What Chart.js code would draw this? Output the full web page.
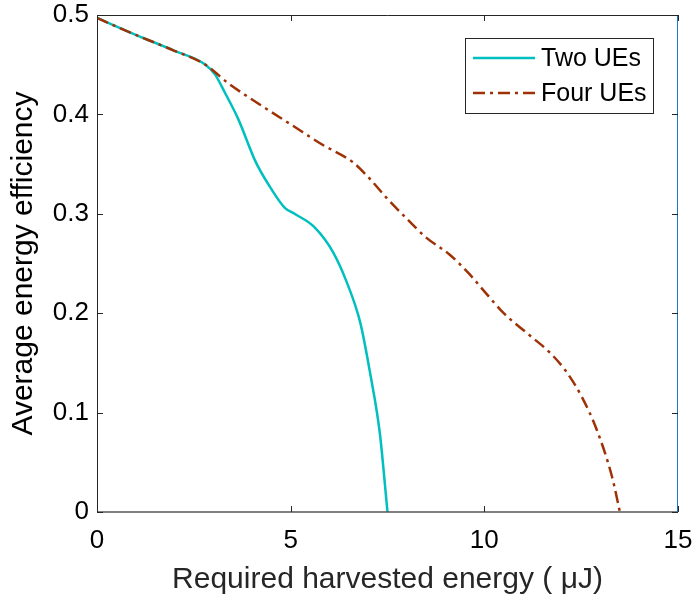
<!DOCTYPE html>
<html>
<head>
<meta charset="utf-8">
<script src="https://cdn.jsdelivr.net/npm/chart.js@4"></script>
<style>
  html, body { margin: 0; padding: 0; background: #fff; }
  #wrap { width: 693px; height: 605px; }
</style>
</head>
<body>
<div id="wrap"><canvas id="eeChart" width="693" height="605"></canvas></div>
<script>
// Required harvested energy (uJ) vs average energy efficiency
const twoX = [0, 1, 2, 2.8, 3.05, 3.3, 3.65, 4.1, 4.5, 4.85, 5.1, 5.6, 6.1, 6.45, 6.8, 7.05, 7.3, 7.5];
const twoY = [0.497, 0.480, 0.464, 0.450, 0.440, 0.422, 0.395, 0.352, 0.325, 0.306, 0.300, 0.287, 0.261, 0.231, 0.190, 0.140, 0.080, 0];

const fourX = [0, 1, 2, 2.8, 3.4, 4.2, 5, 5.8, 6.6, 7.0, 7.5, 8.0, 8.5, 9.1, 9.6, 10.0, 10.5, 11.1, 11.7, 12.1, 12.5, 12.9, 13.3, 13.5];
const fourY = [0.497, 0.480, 0.464, 0.450, 0.431, 0.410, 0.390, 0.370, 0.352, 0.337, 0.315, 0.295, 0.276, 0.259, 0.240, 0.222, 0.200, 0.180, 0.160, 0.142, 0.117, 0.083, 0.035, 0];

const xTicks = [0, 5, 10, 15];
const yTicks = [0, 0.1, 0.2, 0.3, 0.4, 0.5];

const seriesLabels = ['Two UEs', 'Four UEs'];

const FONT = "'Liberation Sans', Arial, Helvetica, sans-serif";
const INK = '#262626';

function toPoints(xs, ys) {
    return xs.map((x, i) => ({ x: x, y: ys[i] }));
}

// box around the plot with inward tick marks
const framePlugin = {
    id: 'frame',
    afterDraw(chart) {
        const ctx = chart.ctx;
        const a = chart.chartArea;
        const xs = chart.scales.x, ys = chart.scales.y;
        ctx.save();
        ctx.lineWidth = 1;
        ctx.strokeStyle = INK;
        ctx.beginPath();
        ctx.moveTo(a.left + 0.5, a.top + 0.5);
        ctx.lineTo(a.right, a.top + 0.5);
        ctx.moveTo(a.left + 0.5, a.top);
        ctx.lineTo(a.left + 0.5, a.bottom);
        ctx.stroke();
        ctx.strokeStyle = '#555';
        ctx.lineWidth = 1.5;
        ctx.beginPath();
        ctx.moveTo(a.left, a.bottom);
        ctx.lineTo(a.right, a.bottom);
        ctx.stroke();
        ctx.strokeStyle = '#1f77c8';
        ctx.lineWidth = 1;
        ctx.beginPath();
        ctx.moveTo(a.right - 0.5, a.top);
        ctx.lineTo(a.right - 0.5, a.bottom);
        ctx.stroke();

        // tick marks
        ctx.strokeStyle = INK;
        ctx.lineWidth = 1;
        const len = 6;
        ctx.beginPath();
        xTicks.forEach(v => {
            const px = Math.round(xs.getPixelForValue(v)) + 0.5;
            ctx.moveTo(px, a.bottom); ctx.lineTo(px, a.bottom - len);
            ctx.moveTo(px, a.top); ctx.lineTo(px, a.top + len);
        });
        yTicks.forEach(v => {
            const py = Math.round(ys.getPixelForValue(v)) + 0.5;
            ctx.moveTo(a.left, py); ctx.lineTo(a.left + len, py);
            ctx.moveTo(a.right, py); ctx.lineTo(a.right - len, py);
        });
        ctx.stroke();
        ctx.restore();
    }
};

// legend box in the upper right corner
const legendPlugin = {
    id: 'boxLegend',
    afterDraw(chart) {
        const ctx = chart.ctx;
        const bx = 465, by = 38, bw = 188, bh = 75;
        ctx.save();
        ctx.fillStyle = '#fff';
        ctx.fillRect(bx, by, bw, bh);
        ctx.strokeStyle = INK;
        ctx.lineWidth = 1;
        ctx.strokeRect(bx + 0.5, by + 0.5, bw, bh);
        ctx.font = '25px ' + FONT;
        ctx.textBaseline = 'middle';
        chart.data.datasets.forEach((ds, i) => {
            const cy = by + 20 + i * 35;
            ctx.strokeStyle = ds.borderColor;
            ctx.lineWidth = ds.borderWidth;
            ctx.setLineDash(ds.borderDash || []);
            ctx.beginPath();
            ctx.moveTo(bx + 8, cy);
            ctx.lineTo(bx + 70, cy);
            ctx.stroke();
            ctx.setLineDash([]);
            ctx.fillStyle = '#000';
            ctx.fillText(ds.label, bx + 76, cy + 1);
        });
        ctx.restore();
    }
};

const ctx = document.getElementById('eeChart').getContext('2d');
new Chart(ctx, {
    type: 'line',
    data: {
        datasets: [{
            label: seriesLabels[0],
            data: toPoints(twoX, twoY),
            borderColor: 'rgb(0, 191, 191)',
            borderWidth: 2.5,
            pointRadius: 0,
            fill: false,
            order: 1,
            cubicInterpolationMode: 'monotone'
        }, {
            label: seriesLabels[1],
            data: toPoints(fourX, fourY),
            borderColor: 'rgb(158, 50, 6)',
            borderWidth: 2.5,
            borderDash: [12, 5, 3, 5],
            pointRadius: 0,
            fill: false,
            order: 0,
            cubicInterpolationMode: 'monotone'
        }]
    },
    options: {
        responsive: false,
        animation: false,
        layout: { padding: { top: 15, right: 15, left: 0, bottom: 0 } },
        plugins: {
            legend: { display: false },
            tooltip: { enabled: false }
        },
        scales: {
            x: {
                type: 'linear',
                min: 0,
                max: 15,
                afterFit: s => { s.height = 93; s.paddingLeft = 0; s.paddingRight = 0; },
                afterBuildTicks: s => { s.ticks = xTicks.map(v => ({ value: v })); },
                grid: { display: false, drawTicks: false },
                border: { display: false },
                ticks: {
                    padding: 13,
                    color: '#000',
                    font: { family: FONT, size: 26 }
                },
                title: {
                    display: true,
                    text: 'Required harvested energy ( μJ)',
                    color: INK,
                    padding: { top: 0, bottom: 7 },
                    font: { family: FONT, size: 30 }
                }
            },
            y: {
                min: 0,
                max: 0.5,
                afterFit: s => { s.width = 97; s.paddingTop = 0; s.paddingBottom = 0; },
                afterBuildTicks: s => { s.ticks = yTicks.map(v => ({ value: v })); },
                grid: { display: false, drawTicks: false },
                border: { display: false },
                ticks: {
                    padding: 8,
                    color: '#000',
                    font: { family: FONT, size: 26 },
                    callback: v => String(v)
                },
                title: {
                    display: true,
                    text: 'Average energy efficiency',
                    color: '#000',
                    padding: { top: 6, bottom: 0 },
                    font: { family: FONT, size: 30 }
                }
            }
        }
    },
    plugins: [framePlugin, legendPlugin]
});
</script>
</body>
</html>
